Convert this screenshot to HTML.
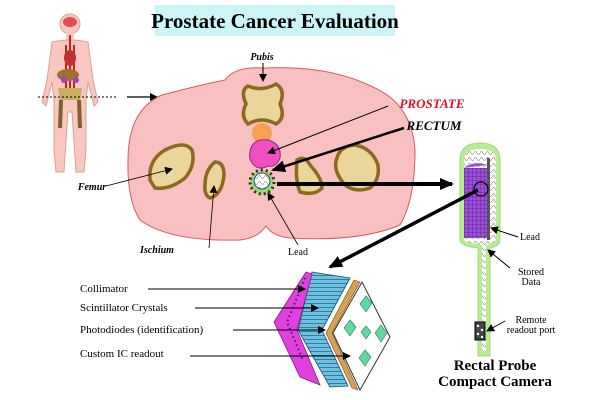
<!DOCTYPE html>
<html><head><style>
body{margin:0;background:#fff;}
svg{display:block;font-family:"Liberation Serif",serif;}
</style></head><body>
<svg width="600" height="400" viewBox="0 0 600 400" xmlns="http://www.w3.org/2000/svg">
<defs>
<marker id="ah" markerWidth="8" markerHeight="8" refX="7" refY="4" orient="auto" markerUnits="userSpaceOnUse"><path d="M0,0 L8,4 L0,8 z" fill="#000"/></marker>
<marker id="ahb" markerWidth="14" markerHeight="12" refX="12" refY="6" orient="auto" markerUnits="userSpaceOnUse"><path d="M0,0 L14,6 L0,12 z" fill="#000"/></marker>
<pattern id="wave" width="6" height="6" patternUnits="userSpaceOnUse"><rect width="6" height="6" fill="#fff"/><path d="M0,3 Q1.5,0 3,3 T6,3" stroke="#999" fill="none" stroke-width="0.8"/></pattern>
<pattern id="grid" width="4" height="4" patternUnits="userSpaceOnUse"><rect width="4" height="4" fill="#9a4fd6"/><path d="M0,0 H4 M0,0 V4" stroke="#5a1a90" stroke-width="0.8"/></pattern>
<pattern id="stripes" width="6" height="4" patternUnits="userSpaceOnUse"><rect width="6" height="4" fill="#6cc0e0"/><path d="M0,3.5 H6" stroke="#2a6a8a" stroke-width="0.8"/></pattern>
</defs>
<rect x="155" y="5" width="240" height="31" fill="#ccf5f7"/>
<text x="275" y="28" font-size="21" font-weight="bold" text-anchor="middle">Prostate Cancer Evaluation</text>

<g>
<circle cx="70" cy="24" r="10" fill="#f8c8c0" stroke="#e0a090"/>
<rect x="66" y="33" width="8" height="8" fill="#f8c8c0"/>
<path d="M52,42 Q70,38 88,42 L93,80 L98,102 L94,106 L88,82 L86,100 L86,150 L84,172 L76,172 L72,112 L68,112 L64,172 L56,172 L54,150 L54,100 L52,82 L46,106 L42,102 L47,80 Z" fill="#f8c8c0" stroke="#e0a090"/>
<ellipse cx="70" cy="22" rx="7" ry="5" fill="#e05050"/>
<path d="M70,35 L70,100 M66,45 L66,90 M74,45 L74,90" stroke="#cc2020" stroke-width="2"/>
<ellipse cx="70" cy="58" rx="6" ry="8" fill="#c03030"/>
<ellipse cx="68" cy="75" rx="11" ry="6" fill="#a07030"/>
<circle cx="64" cy="80" r="3" fill="#a040c0"/><circle cx="76" cy="80" r="3" fill="#a040c0"/>
<path d="M58,88 L82,88 L80,100 L60,100 Z" fill="#c8b060"/>
<path d="M61,100 L60,128 M79,100 L80,128" stroke="#806030" stroke-width="4"/>
</g>
<line x1="38" y1="97" x2="118" y2="97" stroke="#000" stroke-dasharray="2,2" stroke-width="1"/>
<line x1="127" y1="97" x2="157" y2="97" stroke="#000" stroke-width="1.2" marker-end="url(#ah)"/>

<path d="M162,95 Q200,85 225,80 Q235,66 265,68 Q330,65 375,88 Q412,105 415,150 Q415,200 400,225 Q360,242 290,238 Q272,236 266,226 Q258,238 240,240 Q170,242 140,220 Q127,200 128,160 Q128,110 162,95 Z" fill="#f8c0c0" stroke="#e05a5a" stroke-width="1"/>

<g fill="#ead69a" stroke="#8a6a20" stroke-width="3.5">
<path d="M248,86 Q262,92 276,84 Q286,90 280,104 Q286,118 276,124 Q262,116 248,124 Q240,116 246,104 Q240,90 248,86 Z"/>
<path d="M150,180 Q148,160 165,150 Q185,140 192,150 Q196,165 185,178 Q170,190 155,188 Z"/>
<path d="M205,185 Q205,170 215,162 Q224,162 224,175 Q222,195 210,198 Q204,195 205,185 Z"/>
<path d="M297,160 Q305,155 310,165 Q322,178 322,188 Q315,196 300,192 Q295,180 297,160 Z"/>
<path d="M337,158 Q340,146 355,145 Q372,148 378,165 Q380,180 370,188 Q355,193 345,185 Q332,170 337,158 Z"/>
</g>
<circle cx="262" cy="133" r="10" fill="#f8a050"/>
<path d="M250,152 Q252,138 268,140 Q282,144 280,158 Q276,168 268,166 Q260,170 255,166 Q248,160 250,152 Z" fill="#f050c0" stroke="#a02080"/>
<circle cx="262" cy="182" r="12" fill="#90e070"/>
<circle cx="262" cy="182" r="12" fill="none" stroke="#502020" stroke-width="3" stroke-dasharray="2,3"/>
<circle cx="262" cy="181" r="8" fill="url(#wave)" stroke="#4040a0" stroke-width="1"/>

<text x="262" y="60" font-size="10" font-weight="bold" font-style="italic" text-anchor="middle">Pubis</text>
<line x1="263" y1="63" x2="263" y2="81" stroke="#000" marker-end="url(#ah)"/>
<text x="432" y="108" font-size="13" font-weight="bold" font-style="italic" fill="#e01020" text-anchor="middle">PROSTATE</text>
<line x1="388" y1="106" x2="268" y2="153" stroke="#000" stroke-width="1" marker-end="url(#ah)"/>
<text x="434" y="130" font-size="13" font-weight="bold" font-style="italic" text-anchor="middle">RECTUM</text>
<line x1="404" y1="128" x2="273" y2="170" stroke="#000" stroke-width="2.5" marker-end="url(#ahb)"/>
<line x1="277" y1="184" x2="452" y2="184" stroke="#000" stroke-width="4" marker-end="url(#ahb)"/>
<text x="92" y="190" font-size="10" font-weight="bold" font-style="italic" text-anchor="middle">Femur</text>
<line x1="106" y1="186" x2="172" y2="169" stroke="#000" stroke-width="0.8" marker-end="url(#ah)"/>
<text x="157" y="253" font-size="10" font-weight="bold" font-style="italic" text-anchor="middle">Ischium</text>
<line x1="209" y1="248" x2="214" y2="186" stroke="#000" stroke-width="0.8" marker-end="url(#ah)"/>
<text x="298" y="255" font-size="10" text-anchor="middle">Lead</text>
<line x1="298" y1="245" x2="268" y2="193" stroke="#000" stroke-width="0.8" marker-end="url(#ah)"/>

<path d="M460,160 Q460,143 480,143 Q500,143 500,160 L500,240 Q500,246 490,248 L490,356 L478,356 L478,248 Q460,246 460,240 Z" fill="#b8ec90" stroke="#a0d880" stroke-width="1"/>
<path d="M464,160 Q464,149 480,149 Q496,149 496,160 L496,240 Q492,243 486,245 L486,352 L482,352 L482,245 Q466,243 464,240 Z" fill="url(#wave)"/>
<rect x="464" y="168" width="23" height="70" fill="url(#grid)"/>
<path d="M464,168 Q475,160 487,165" fill="#9a4fd6"/>
<rect x="487" y="158" width="3" height="82" fill="#555"/>
<circle cx="481" cy="189" r="7" fill="none" stroke="#000" stroke-width="1.2"/>
<rect x="475" y="322" width="10" height="18" fill="#444" stroke="#000"/>
<circle cx="478" cy="326" r="1.2" fill="#fff"/><circle cx="482" cy="330" r="1.2" fill="#fff"/><circle cx="478" cy="334" r="1.2" fill="#fff"/><circle cx="482" cy="337" r="1.2" fill="#fff"/>
<line x1="478" y1="190" x2="330" y2="267" stroke="#000" stroke-width="3.5" marker-end="url(#ahb)"/>
<text x="520" y="240" font-size="10">Lead</text>
<line x1="518" y1="237" x2="491" y2="228" stroke="#000" stroke-width="1" marker-end="url(#ah)"/>
<text x="531" y="275" font-size="10" text-anchor="middle">Stored</text>
<text x="531" y="285" font-size="10" text-anchor="middle">Data</text>
<line x1="510" y1="268" x2="488" y2="250" stroke="#000" stroke-width="1" marker-end="url(#ah)"/>
<text x="531" y="323" font-size="10" text-anchor="middle">Remote</text>
<text x="531" y="333" font-size="10" text-anchor="middle">readout port</text>
<line x1="505" y1="321" x2="487" y2="331" stroke="#000" stroke-width="1" marker-end="url(#ah)"/>
<text x="495" y="370" font-size="15" font-weight="bold" text-anchor="middle">Rectal Probe</text>
<text x="495" y="386" font-size="15" font-weight="bold" text-anchor="middle">Compact  Camera</text>

<path d="M333,333 L362,282 L390,337 L360,390 Z" fill="#fff" stroke="#333" stroke-width="1"/>
<g fill="#60d8a0" stroke="#208060" stroke-width="0.6">
<path d="M366,296 L372,303 L366,312 L360,304 Z"/>
<path d="M350,320 L356,327 L350,336 L344,328 Z"/>
<path d="M366,326 L371,332 L366,339 L361,332 Z"/>
<path d="M381,325 L387,333 L381,342 L375,333 Z"/>
<path d="M365,350 L371,357 L365,366 L359,358 Z"/>
</g>
<path d="M354,280 L360,282 L332,333 L358,390 L352,388 L326,333 Z" fill="#d8a050" stroke="#705020" stroke-width="0.6"/>
<path d="M312,272 L350,278 L322,330 L348,386 L330,387 L298,330 Z" fill="url(#stripes)" stroke="#204a6a" stroke-width="0.8"/>
<path d="M306,272 L312,274 L297,330 L320,385 L300,377 L274,322 Z" fill="#e040e0" stroke="#802080" stroke-width="0.8"/>
<path d="M305,278 L287,322 L303,360" stroke="#402040" stroke-width="2" stroke-dasharray="1.5,3" fill="none"/>

<text x="80" y="292" font-size="11">Collimator</text>
<line x1="148" y1="289" x2="305" y2="289" stroke="#000" stroke-width="1" marker-end="url(#ah)"/>
<text x="80" y="311" font-size="11">Scintillator Crystals</text>
<line x1="195" y1="308" x2="318" y2="308" stroke="#000" stroke-width="1" marker-end="url(#ah)"/>
<text x="80" y="333" font-size="11">Photodiodes (identification)</text>
<line x1="233" y1="330" x2="325" y2="330" stroke="#000" stroke-width="1" marker-end="url(#ah)"/>
<text x="80" y="357" font-size="11">Custom IC readout</text>
<line x1="190" y1="356" x2="350" y2="356" stroke="#000" stroke-width="1" marker-end="url(#ah)"/>
</svg>
</body></html>
